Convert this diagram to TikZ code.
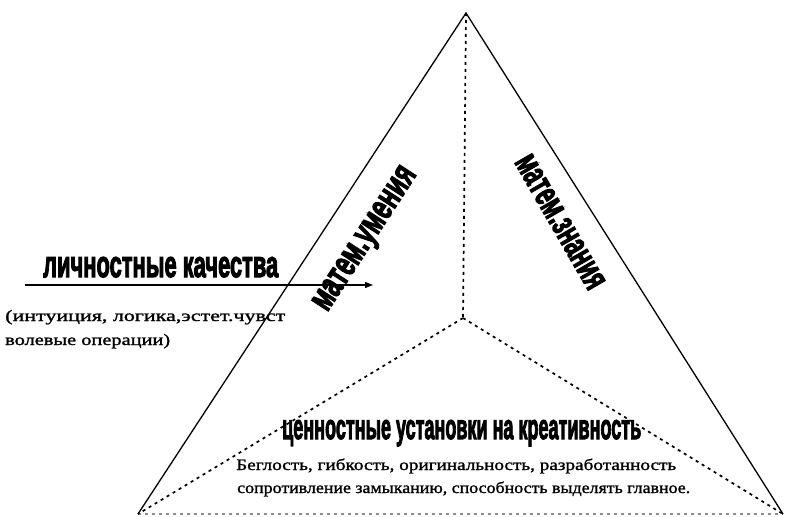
\documentclass[tikz,border=0pt]{standalone}
\usepackage{fontspec}
\usepackage{graphicx}
\setmainfont{Liberation Serif}[FakeBold=1.2]
\newfontfamily\bodyfont[FakeBold=1.2]{Liberation Serif}
\newfontfamily\headfont[FakeBold=3.5]{Liberation Sans Bold}
\usetikzlibrary{arrows.meta}
\tikzset{
  edge/.style={line width=1.3pt, black},
  dashedge/.style={line width=1.7pt, black, dash pattern=on 3pt off 4pt},
  greyedge/.style={line width=1.6pt, black!45, dash pattern=on 3pt off 4pt},
  headtxt/.style={inner sep=0pt, font=\headfont\fontsize{30}{32}\selectfont},
  bodytxt/.style={inner sep=0pt, font=\bodyfont\fontsize{16}{18}\selectfont},
}
\begin{document}
\begin{tikzpicture}[x=1pt,y=-1pt]
\useasboundingbox (0,0) rectangle (786,516);
\coordinate (A) at (466,13);
\coordinate (BL) at (138,514);
\coordinate (BR) at (783,514);
\coordinate (C) at (463,318);
\coordinate (arrS) at (25,285);
\coordinate (arrE) at (373,285);
% triangle
\draw[greyedge] (BL) -- (BR);
\draw[dashedge] (A) -- (C);
\draw[dashedge] (C) -- (BL);
\draw[dashedge] (C) -- (BR);
\draw[edge] (BL) -- (A) -- (BR);
% arrow
\draw[line width=1.3pt, -{Triangle[length=8pt,width=6pt]}] (arrS) -- (arrE);
% texts
\node[headtxt, anchor=base west] (lk) at (43,277) {\resizebox{235pt}{20pt}{личностные качества}};
\node[bodytxt, anchor=base west] (l1) at (5,321) {\resizebox{280pt}{\height}{(интуиция, логика,эстет.чувст}};
\node[bodytxt, anchor=base west] (l2) at (5,345) {\resizebox{165pt}{\height}{волевые операции)}};
\node[headtxt, rotate=57] (mu) at (367,240) {\resizebox{165pt}{20pt}{матем.умения}};
\node[headtxt, rotate=-60] (mz) at (560,222) {\resizebox{150pt}{20pt}{матем.знания}};
\node[headtxt, anchor=base west] (ck) at (282,439) {\resizebox{359pt}{19pt}{ценностные установки на креативность}};
\node[bodytxt, anchor=base west] (b1) at (236,470) {\resizebox{440pt}{\height}{Беглость, гибкость, оригинальность, разработанность}};
\node[bodytxt, anchor=base west] (b2) at (237,493) {\resizebox{453pt}{\height}{сопротивление замыканию, способность выделять главное.}};
\end{tikzpicture}
\end{document}
